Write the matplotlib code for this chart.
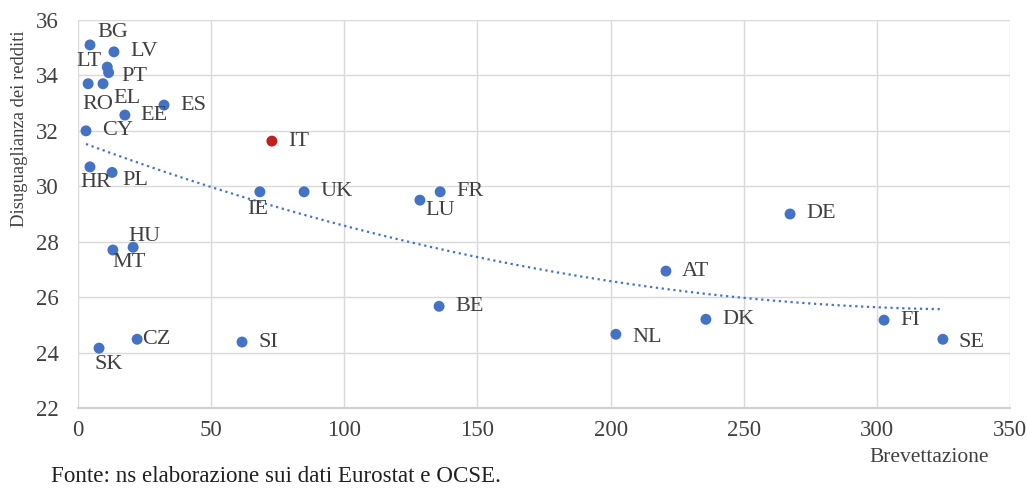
import numpy as np
import matplotlib
matplotlib.use('Agg')
import matplotlib.pyplot as plt

# ── Data ──────────────────────────────────────────────────────────────────────
countries = ['BG', 'LV', 'LT', 'PT', 'RO', 'EL', 'EE', 'ES', 'CY', 'IT',
             'HR', 'PL', 'IE', 'UK', 'LU', 'FR', 'DE', 'HU', 'MT', 'AT',
             'BE', 'NL', 'DK', 'FI', 'SE', 'CZ', 'SI', 'SK']
brevettazione = [4.5, 13.5, 11.0, 11.5, 3.8, 9.4, 17.6, 32.3, 3.0, 72.8,
                 4.5, 12.8, 68.3, 84.9, 128.4, 136.0, 267.4, 20.7, 13.1, 220.8,
                 135.6, 202.0, 235.8, 302.7, 324.8, 22.2, 61.6, 7.9]
disuguaglianza = [35.1, 34.85, 34.3, 34.1, 33.7, 33.7, 32.57, 32.93, 32.0, 31.63,
                  30.7, 30.5, 29.8, 29.8, 29.5, 29.8, 29.0, 27.8, 27.7, 26.94,
                  25.67, 24.66, 25.2, 25.17, 24.48, 24.48, 24.38, 24.16]

# label offsets in pixels (dx, dy) and horizontal alignment
label_pos = {
    'BG': (7, 12, 'left'), 'LT': (-6, 6, 'right'), 'PT': (13, -4, 'left'),
    'RO': (-6, -21, 'left'), 'EL': (10, -15, 'left'), 'HR': (-10, -16, 'left'),
    'PL': (10, -8, 'left'), 'IE': (-13, -18, 'left'), 'LU': (5, -10, 'left'),
    'HU': (-5, 11, 'left'), 'MT': (-1, -12, 'left'), 'CZ': (5, 0, 'left'),
    'SK': (-5, -16, 'left'), 'NL': (16, -3, 'left'), 'SE': (16, -3, 'left'),
}

BLUE = '#4472C4'
RED = '#C0201E'
plt.rcParams['font.family'] = ['Liberation Serif', 'DejaVu Serif']

fig = plt.figure(figsize=(10.27, 4.88), dpi=100)
ax = fig.add_axes([78 / 1027, 80 / 488, 932 / 1027, 388 / 488])

x = np.array(brevettazione)
y = np.array(disuguaglianza)
colors = [RED if c == 'IT' else BLUE for c in countries]
ax.scatter(x, y, s=62, c=colors, zorder=3, linewidths=0)

# polynomial (order 2) trendline, as in the spreadsheet original
coef = np.polyfit(x, y, 2)
xs = np.linspace(x.min(), x.max(), 200)
ax.plot(xs, np.polyval(coef, xs), color=BLUE, linestyle=':', linewidth=1.6, zorder=2)

for c, xi, yi in zip(countries, x, y):
    dx, dy, ha = label_pos.get(c, (16, 0, 'left'))
    ax.annotate(c, (xi, yi), xytext=(dx, dy), textcoords='offset pixels',
                ha=ha, va='center', fontsize=16, color='#404040')

ax.set_xlim(0, 350)
ax.set_ylim(22, 36)
ax.set_xticks(range(0, 351, 50))
ax.set_yticks(range(22, 37, 2))
ax.grid(True, color='#D9D9D9', linewidth=1)
ax.set_axisbelow(True)
for s in ['top', 'right', 'left']:
    ax.spines[s].set_visible(False)
ax.spines['bottom'].set_color('#D0D0D0')
ax.spines['bottom'].set_linewidth(1.5)
ax.tick_params(length=0, labelsize=16.5, labelcolor='#404040')
ax.tick_params(axis='x', pad=9)
ax.tick_params(axis='y', pad=14)

fig.text(20 / 1027, 1 - 129 / 488, 'Disuguaglianza dei redditi', rotation=90,
         ha='center', va='center', fontsize=13.4, color='#404040')
fig.text(929 / 1027, 1 - 457 / 488, 'Brevettazione', ha='center', va='center',
         fontsize=15.5, color='#404040')
fig.text(51 / 1027, 1 / 488, 'Fonte: ns elaborazione sui dati Eurostat e OCSE.',
         ha='left', va='bottom', fontsize=16.6, color='#202020')

fig.savefig('out.png', dpi=100)
